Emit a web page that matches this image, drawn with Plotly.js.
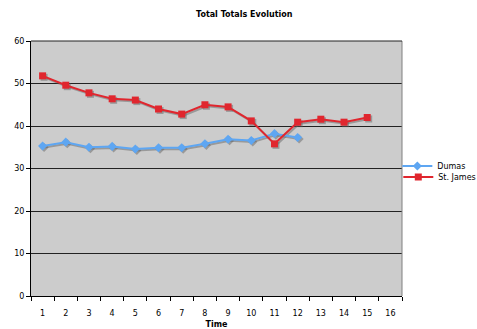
<!DOCTYPE html>
<html>
<head>
<meta charset="utf-8">
<script src="https://cdn.plot.ly/plotly-3.0.1.min.js"></script>
<style>
  html, body { margin: 0; padding: 0; background: #ffffff; }
  #chart { width: 477px; height: 329px; }
</style>
</head>
<body>
<div id="chart"></div>
<script>
// Time steps and the two series
const timeSteps = [1, 2, 3, 4, 5, 6, 7, 8, 9, 10, 11, 12, 13, 14, 15, 16];
const dumasTime = [1, 2, 3, 4, 5, 6, 7, 8, 9, 10, 11, 12];
const dumasValues = [35.3, 36.2, 35.0, 35.2, 34.6, 34.9, 34.9, 35.8, 36.9, 36.6, 38.2, 37.3];
const stJamesTime = [1, 2, 3, 4, 5, 6, 7, 8, 9, 10, 11, 12, 13, 14, 15];
const stJamesValues = [51.8, 49.6, 47.8, 46.4, 46.1, 44.0, 42.8, 45.0, 44.5, 41.2, 35.8, 40.9, 41.6, 40.9, 42.0];
const yTicks = [0, 10, 20, 30, 40, 50, 60];

const FONT = "DejaVu Sans, Verdana, sans-serif";
const plotW = 371, plotH = 255;
const xRange = [0.5, 16.5], yRange = [0, 60];
// soft drop shadow under each series, offset a little down and right
const shOff = 1.5;
const dx = shOff / plotW * (xRange[1] - xRange[0]);
const dy = shOff / plotH * (yRange[1] - yRange[0]);
const shadow = 'rgba(90,90,90,0.45)';

const traces = [
  { x: dumasTime, y: dumasValues, type: 'scatter', mode: 'lines+markers', xaxis: 'x', yaxis: 'y',
    showlegend: false, hoverinfo: 'skip',
    line: { color: shadow, width: 2 }, marker: { symbol: 'diamond', size: 7, color: shadow } },
  { x: stJamesTime, y: stJamesValues, type: 'scatter', mode: 'lines+markers', xaxis: 'x', yaxis: 'y',
    showlegend: false, hoverinfo: 'skip',
    line: { color: shadow, width: 2 }, marker: { symbol: 'square', size: 7, color: shadow } },
  { x: dumasTime, y: dumasValues, name: 'Dumas', type: 'scatter', mode: 'lines+markers',
    xaxis: 'x2', yaxis: 'y2', legend: 'legend',
    line: { color: '#5ea6f2', width: 2 }, marker: { symbol: 'diamond', size: 7, color: '#5ea6f2' } },
  { x: stJamesTime, y: stJamesValues, name: 'St. James', type: 'scatter', mode: 'lines+markers',
    xaxis: 'x2', yaxis: 'y2', legend: 'legend2',
    line: { color: '#e0262e', width: 2 }, marker: { symbol: 'square', size: 7, color: '#e0262e' } }
];

const legendBase = {
  xref: 'container', yref: 'container', xanchor: 'left', yanchor: 'middle',
  bgcolor: 'rgba(0,0,0,0)', borderwidth: 0, font: { family: FONT, size: 8 }, itemwidth: 30
};

const layout = {
  width: 477, height: 329,
  margin: { l: 31, r: 75, t: 41, b: 33, autoexpand: false },
  paper_bgcolor: '#ffffff',
  plot_bgcolor: '#cccccc',
  font: { family: FONT, size: 8, color: '#000000' },
  title: { text: 'Total Totals Evolution', font: { family: FONT, size: 8, weight: 'bold' },
           xref: 'container', x: 0.512, xanchor: 'center', yref: 'container', y: 0.957, yanchor: 'middle' },
  xaxis: { range: [xRange[0] - dx, xRange[1] - dx], showgrid: false, zeroline: false,
           showticklabels: false, ticks: '', showline: false, fixedrange: true },
  yaxis: { range: [yRange[0] + dy, yRange[1] + dy], showgrid: false, zeroline: false,
           showticklabels: false, ticks: '', showline: false, fixedrange: true },
  xaxis2: {
    overlaying: 'x', range: xRange, tickmode: 'array', tickvals: timeSteps,
    ticktext: timeSteps.map(String), ticks: '', ticklabelstandoff: 9,
    minor: { ticks: 'outside', tick0: 0.5, dtick: 1, ticklen: 4, tickcolor: '#000000', showgrid: false },
    showgrid: false, zeroline: false, showline: true, linecolor: '#000000', linewidth: 1,
    tickfont: { family: FONT, size: 8 },
    title: { text: 'Time', font: { family: FONT, size: 8, weight: 'bold' }, standoff: 20 },
    fixedrange: true
  },
  yaxis2: {
    overlaying: 'y', range: yRange, tickmode: 'array', tickvals: yTicks,
    ticks: 'outside', ticklen: 4, tickcolor: '#000000',
    showgrid: true, gridcolor: '#222222', gridwidth: 1, zeroline: false,
    showline: true, linecolor: '#000000', linewidth: 1,
    tickfont: { family: FONT, size: 8 }, fixedrange: true
  },
  shapes: [
    { type: 'line', xref: 'paper', yref: 'paper', x0: 1, x1: 1, y0: 0, y1: 1,
      line: { color: '#808080', width: 1 } },
    { type: 'line', xref: 'paper', yref: 'paper', x0: 0, x1: 1, y0: 1, y1: 1,
      line: { color: '#222222', width: 1 } }
  ],
  legend: Object.assign({}, legendBase, { x: 0.833, y: 1 - 166 / 329 }),
  legend2: Object.assign({}, legendBase, { x: 0.835, y: 1 - 177 / 329 }),
  showlegend: true
};

Plotly.newPlot('chart', traces, layout, { displayModeBar: false, staticPlot: true });
</script>
</body>
</html>
